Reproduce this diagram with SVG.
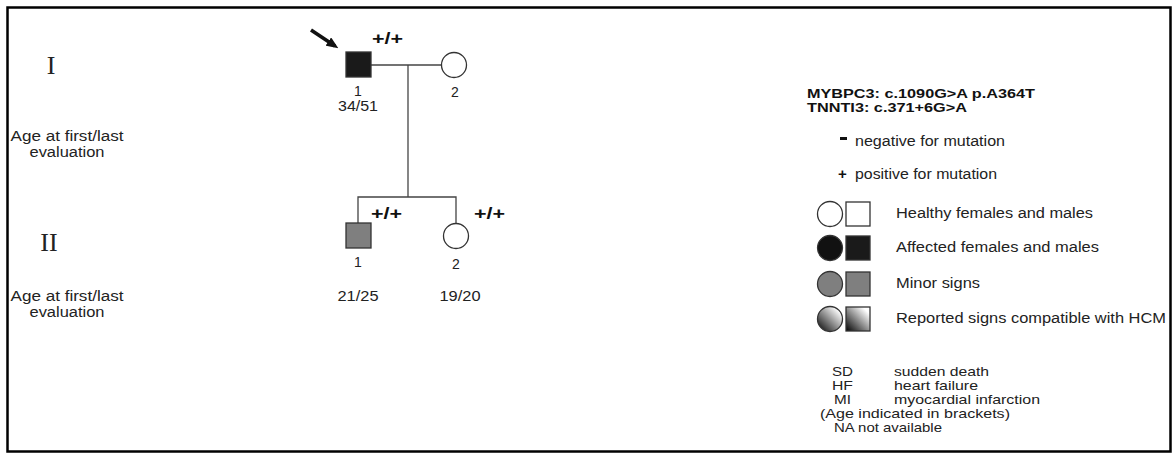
<svg xmlns="http://www.w3.org/2000/svg" width="1173" height="455" viewBox="0 0 1173 455">
  <style>
    .t { font-family: "Liberation Sans", Arial, sans-serif; font-size: 14px; fill: #222; }
    .s { font-family: "Liberation Sans", Arial, sans-serif; font-size: 13px; fill: #222; }
    .b { font-family: "Liberation Sans", Arial, sans-serif; font-weight: bold; fill: #111; }
    .gen { font-family: "Liberation Serif", "Times New Roman", serif; font-size: 26px; fill: #222; }
    .sym { stroke: #333; stroke-width: 1.3; }
    .line { stroke: #444; stroke-width: 1.3; fill: none; }
  </style>
  <defs>
    <linearGradient id="reported" x1="0" y1="1" x2="1" y2="0">
      <stop offset="0" stop-color="#000"/>
      <stop offset="0.85" stop-color="#fff"/>
      <stop offset="1" stop-color="#fff"/>
    </linearGradient>
    <marker id="arrowhead" markerWidth="12" markerHeight="10" refX="8" refY="5" orient="auto" markerUnits="userSpaceOnUse">
      <path d="M0,0 L12,5 L0,10 Z" fill="#111"/>
    </marker>
  </defs>

  <rect x="7.5" y="7.5" width="1163" height="444" fill="#fff" stroke="#000" stroke-width="2.5"/>

  <!-- generation labels -->
  <text class="gen" x="51" y="74" text-anchor="middle">I</text>
  <text class="gen" x="49" y="251" text-anchor="middle">II</text>
  <text class="t" x="67" y="141" text-anchor="middle" textLength="113" lengthAdjust="spacingAndGlyphs">Age at first/last</text>
  <text class="t" x="67" y="157" text-anchor="middle" textLength="75" lengthAdjust="spacingAndGlyphs">evaluation</text>
  <text class="t" x="67" y="301" text-anchor="middle" textLength="113" lengthAdjust="spacingAndGlyphs">Age at first/last</text>
  <text class="t" x="67" y="317" text-anchor="middle" textLength="75" lengthAdjust="spacingAndGlyphs">evaluation</text>

  <!-- connectors -->
  <g id="connectors">
    <line class="line" x1="371" y1="65" x2="441" y2="65"/>
    <line class="line" x1="408" y1="65" x2="408" y2="197"/>
    <polyline class="line" points="358,223 358,197 456,197 456,223"/>
    <line x1="311" y1="30" x2="335" y2="46" stroke="#111" stroke-width="3.5" marker-end="url(#arrowhead)"/>
  </g>

  <!-- I-1 proband -->
  <g id="I-1">
    <rect class="sym" x="346" y="52" width="25" height="25" fill="#1a1a1a"/>
    <text class="b" x="372" y="44" font-size="16" textLength="31" lengthAdjust="spacingAndGlyphs">+/+</text>
    <text class="t" x="358" y="96" text-anchor="middle">1</text>
    <text class="t" x="358" y="111" text-anchor="middle" textLength="40" lengthAdjust="spacingAndGlyphs">34/51</text>
  </g>

  <!-- I-2 -->
  <g id="I-2">
    <circle class="sym" cx="454" cy="65" r="12.5" fill="#fff"/>
    <text class="t" x="455" y="97" text-anchor="middle">2</text>
  </g>

  <!-- II-1 -->
  <g id="II-1">
    <rect class="sym" x="346" y="223" width="25" height="25" fill="#7f7f7f"/>
    <text class="b" x="371" y="219" font-size="16" textLength="31" lengthAdjust="spacingAndGlyphs">+/+</text>
    <text class="t" x="358" y="267" text-anchor="middle">1</text>
    <text class="t" x="358" y="301" text-anchor="middle" textLength="41" lengthAdjust="spacingAndGlyphs">21/25</text>
  </g>

  <!-- II-2 -->
  <g id="II-2">
    <circle class="sym" cx="456" cy="236" r="12.5" fill="#fff"/>
    <text class="b" x="474" y="219" font-size="16" textLength="31" lengthAdjust="spacingAndGlyphs">+/+</text>
    <text class="t" x="456" y="269" text-anchor="middle">2</text>
    <text class="t" x="460" y="301" text-anchor="middle" textLength="41" lengthAdjust="spacingAndGlyphs">19/20</text>
  </g>

  <!-- legend -->
  <g id="legend">
    <text class="b" x="807" y="98" font-size="13" textLength="228" lengthAdjust="spacingAndGlyphs">MYBPC3: c.1090G&gt;A p.A364T</text>
    <text class="b" x="807" y="112" font-size="13" textLength="160" lengthAdjust="spacingAndGlyphs">TNNTI3: c.371+6G&gt;A</text>

    <rect x="840" y="137" width="7" height="3" fill="#111"/>
    <text class="t" x="855" y="146" textLength="150" lengthAdjust="spacingAndGlyphs">negative for  mutation</text>
    <text class="b" x="838" y="179" font-size="15">+</text>
    <text class="t" x="855" y="179" textLength="142" lengthAdjust="spacingAndGlyphs">positive for mutation</text>

    <circle class="sym" cx="830" cy="214" r="12.5" fill="#fff"/>
    <rect class="sym" x="846" y="202" width="24" height="24" fill="#fff"/>
    <text class="t" x="896" y="218" textLength="197" lengthAdjust="spacingAndGlyphs">Healthy females and males</text>

    <circle class="sym" cx="830" cy="248" r="12.5" fill="#111"/>
    <rect class="sym" x="846" y="236" width="24" height="24" fill="#1a1a1a"/>
    <text class="t" x="896" y="252" textLength="203" lengthAdjust="spacingAndGlyphs">Affected females and males</text>

    <circle class="sym" cx="830" cy="284" r="12.5" fill="#7f7f7f"/>
    <rect class="sym" x="846" y="272" width="24" height="24" fill="#7f7f7f"/>
    <text class="t" x="896" y="288" textLength="84" lengthAdjust="spacingAndGlyphs">Minor signs</text>

    <circle class="sym" cx="830" cy="319" r="12.5" fill="url(#reported)"/>
    <rect class="sym" x="846" y="307" width="24" height="24" fill="url(#reported)"/>
    <text class="t" x="896" y="323" textLength="270" lengthAdjust="spacingAndGlyphs">Reported signs compatible with HCM</text>

    <text class="s" x="832" y="376" textLength="21" lengthAdjust="spacingAndGlyphs">SD</text>
    <text class="s" x="894" y="376" textLength="95" lengthAdjust="spacingAndGlyphs">sudden death</text>
    <text class="s" x="832" y="390" textLength="21" lengthAdjust="spacingAndGlyphs">HF</text>
    <text class="s" x="894" y="390" textLength="84" lengthAdjust="spacingAndGlyphs">heart failure</text>
    <text class="s" x="834" y="404" textLength="17" lengthAdjust="spacingAndGlyphs">MI</text>
    <text class="s" x="894" y="404" textLength="146" lengthAdjust="spacingAndGlyphs">myocardial infarction</text>
    <text class="s" x="820" y="418" textLength="190" lengthAdjust="spacingAndGlyphs">(Age indicated in brackets)</text>
    <text class="s" x="834" y="432" textLength="108" lengthAdjust="spacingAndGlyphs">NA  not available</text>
  </g>
</svg>
